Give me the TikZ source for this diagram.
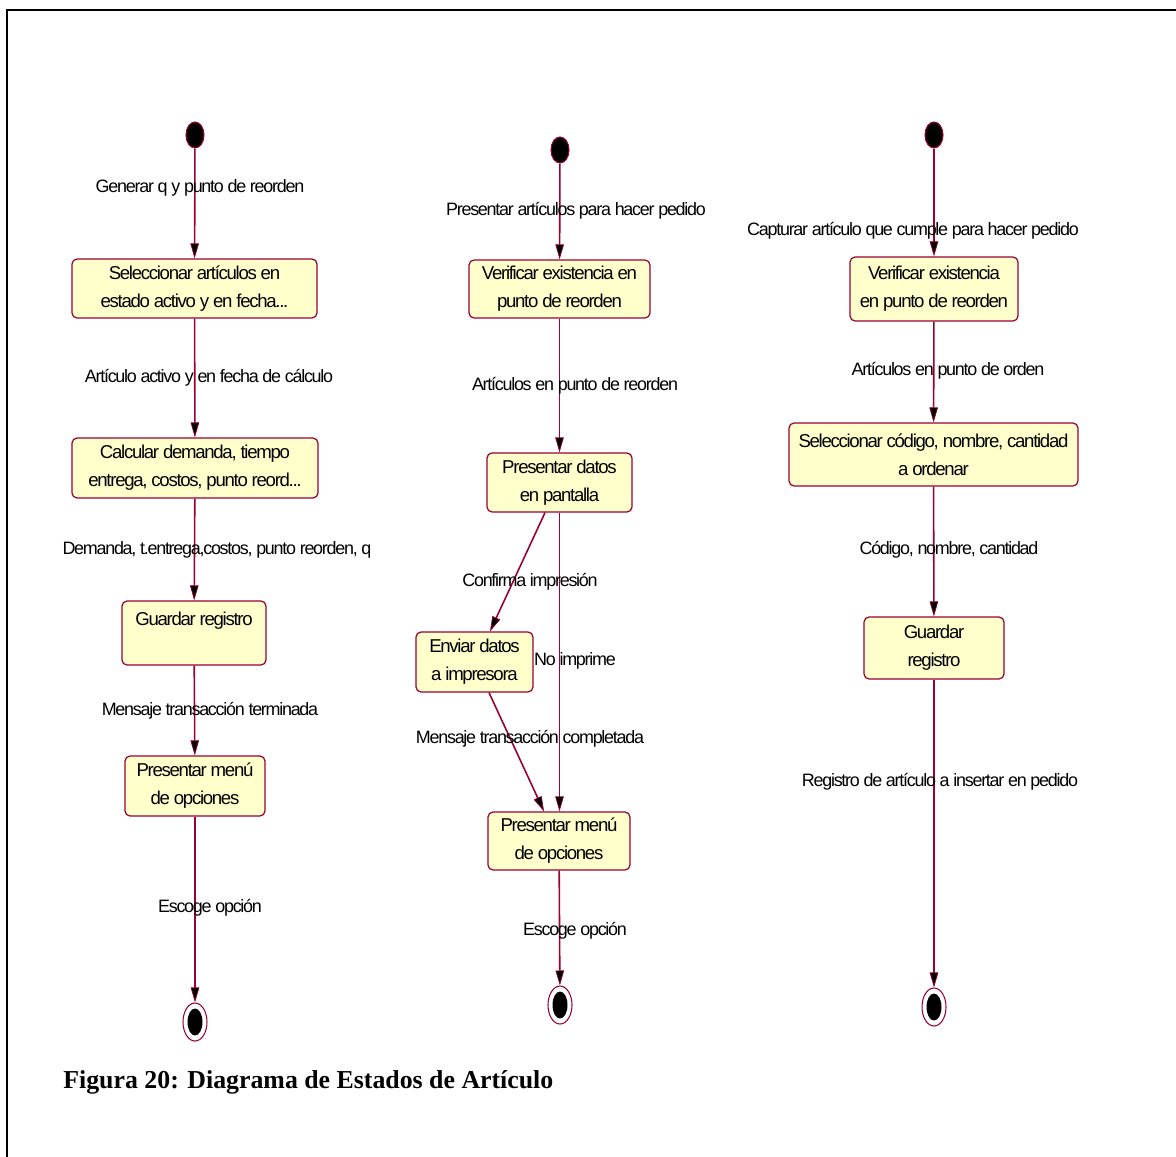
\documentclass[tikz,border=0pt]{standalone}
\usepackage{fontspec}
\setmainfont{Liberation Sans}[LetterSpace=-7]
\newfontfamily\capfont{Liberation Serif}
\usetikzlibrary{arrows.meta,shapes.geometric,calc}
\definecolor{rosered}{RGB}{153,0,51}
\definecolor{stateyellow}{RGB}{255,255,204}
\tikzset{
  statebox/.style={draw=rosered, fill=stateyellow, rounded corners=0.1cm, line width=0.7pt,
    align=center, inner sep=0pt, font=\fontsize{10.6}{15.9}\selectfont},
  trans/.style={draw=rosered, line width=0.9pt, -{Triangle[length=0.3cm,width=0.17cm,fill=black,line width=0.4pt]}},
  lbl/.style={font=\fontsize{10.2}{14}\selectfont, inner sep=0pt},
  startdot/.style={ellipse, draw=rosered, fill=black, line width=0.6pt, minimum width=0.36cm, minimum height=0.52cm, inner sep=0pt},
  endring/.style={ellipse, draw=rosered, fill=white, line width=0.6pt, minimum width=0.48cm, minimum height=0.76cm, inner sep=0pt},
  enddot/.style={ellipse, fill=black, minimum width=0.3cm, minimum height=0.54cm, inner sep=0pt}
}
\begin{document}
\begin{tikzpicture}[x=0.02cm, y=-0.02cm]
\useasboundingbox (0,0) rectangle (1176,1156);
% page frame (open to the right and bottom)
\draw[line width=1.1pt] (7,1170) -- (7,10) -- (1190,10);

% ---------- first column ----------
\node[startdot] (i1) at (195,135) {};
\node[statebox, minimum width=4.9cm, minimum height=1.18cm] (a1) at (194.5,288.5)
  {Seleccionar artículos en\\estado activo y en fecha...};
\node[statebox, minimum width=4.92cm, minimum height=1.2cm] (a2) at (195,468)
  {Calcular demanda, tiempo\\entrega, costos, punto reord...};
\node[statebox, minimum width=2.88cm, minimum height=1.28cm] (a3) at (194,633)
  {Guardar registro\\\mbox{}};
\node[statebox, minimum width=2.8cm, minimum height=1.2cm] (a4) at (195,786)
  {Presentar menú\\de opciones};
\node[endring] (f1) at (195,1022) {};
\node[enddot] at (f1) {};

\draw[trans] (i1) -- (a1);
\draw[trans] (a1) -- (a2);
\draw[trans] (a2) -- (a3);
\draw[trans] (a3) -- (a4);
\draw[trans] (a4) -- (f1);

\node[lbl] (la1) at (200,188) {Generar q y punto de reorden};
\node[lbl] (la2) at (209,378) {Artículo activo y en fecha de cálculo};
\node[lbl] (la3) at (217,550) {Demanda, t.entrega,costos, punto reorden, q};
\node[lbl] (la4) at (210,711) {Mensaje transacción terminada};
\node[lbl] (la5) at (210,908) {Escoge opción};

% ---------- second column ----------
\node[startdot] (i2) at (560,150) {};
\node[statebox, minimum width=3.62cm, minimum height=1.16cm] (b1) at (559.5,289)
  {Verificar existencia en\\punto de reorden};
\node[statebox, minimum width=2.9cm, minimum height=1.18cm] (b2) at (559.5,482.5)
  {Presentar datos\\en pantalla};
\node[statebox, minimum width=2.34cm, minimum height=1.2cm] (b3) at (474.5,662)
  {Enviar datos\\a impresora};
\node[statebox, minimum width=2.84cm, minimum height=1.16cm] (b4) at (559,841)
  {Presentar menú\\de opciones};
\node[endring] (f2) at (560,1005) {};
\node[enddot] at (f2) {};

\draw[trans] (i2) -- (b1);
\draw[trans] (b1) -- (b2);
\draw[trans] ($(b2.south)+(-14.5,0)$) -- ($(b3.north)+(15.5,0)$);
\draw[trans] (b2.south) -- (b2.south |- b4.north);
\draw[trans] ($(b3.south)+(14.5,0)$) -- ($(b4.north)+(-15,0)$);
\draw[trans] (b4) -- (f2);

\node[lbl] (lb1) at (576,211) {Presentar artículos para hacer pedido};
\node[lbl] (lb2) at (575,386) {Artículos en punto de reorden};
\node[lbl] (lb3) at (530,582) {Confirma impresión};
\node[lbl] (lb4) at (575,661) {No imprime};
\node[lbl] (lb5) at (530,739) {Mensaje transacción completada};
\node[lbl] (lb6) at (575,931) {Escoge opción};

% ---------- third column ----------
\node[startdot] (i3) at (934,135) {};
\node[statebox, minimum width=3.36cm, minimum height=1.28cm] (c1) at (934,289)
  {Verificar existencia\\en punto de reorden};
\node[statebox, minimum width=5.78cm, minimum height=1.26cm] (c2) at (933.5,454.5)
  {Seleccionar código, nombre, cantidad\\a ordenar};
\node[statebox, minimum width=2.8cm, minimum height=1.24cm] (c3) at (934,648)
  {Guardar\\registro};
\node[endring] (f3) at (934,1007) {};
\node[enddot] at (f3) {};

\draw[trans] (i3) -- (c1);
\draw[trans] (c1) -- (c2);
\draw[trans] (c2) -- (c3);
\draw[trans] (c3) -- (f3);

\node[lbl] (lc1) at (913,231) {Capturar artículo que cumple para hacer pedido};
\node[lbl] (lc2) at (948,371) {Artículos en punto de orden};
\node[lbl] (lc3) at (949,550) {Código, nombre,  cantidad};
\node[lbl] (lc4) at (940,782) {Registro de artículo a insertar en pedido};

% caption
\node[anchor=west, inner sep=0pt, font=\capfont\bfseries\fontsize{14.7}{17}\selectfont] (cap) at (63,1082)
  {Figura 20: Diagrama de Estados de Artículo};
\end{tikzpicture}
\end{document}
